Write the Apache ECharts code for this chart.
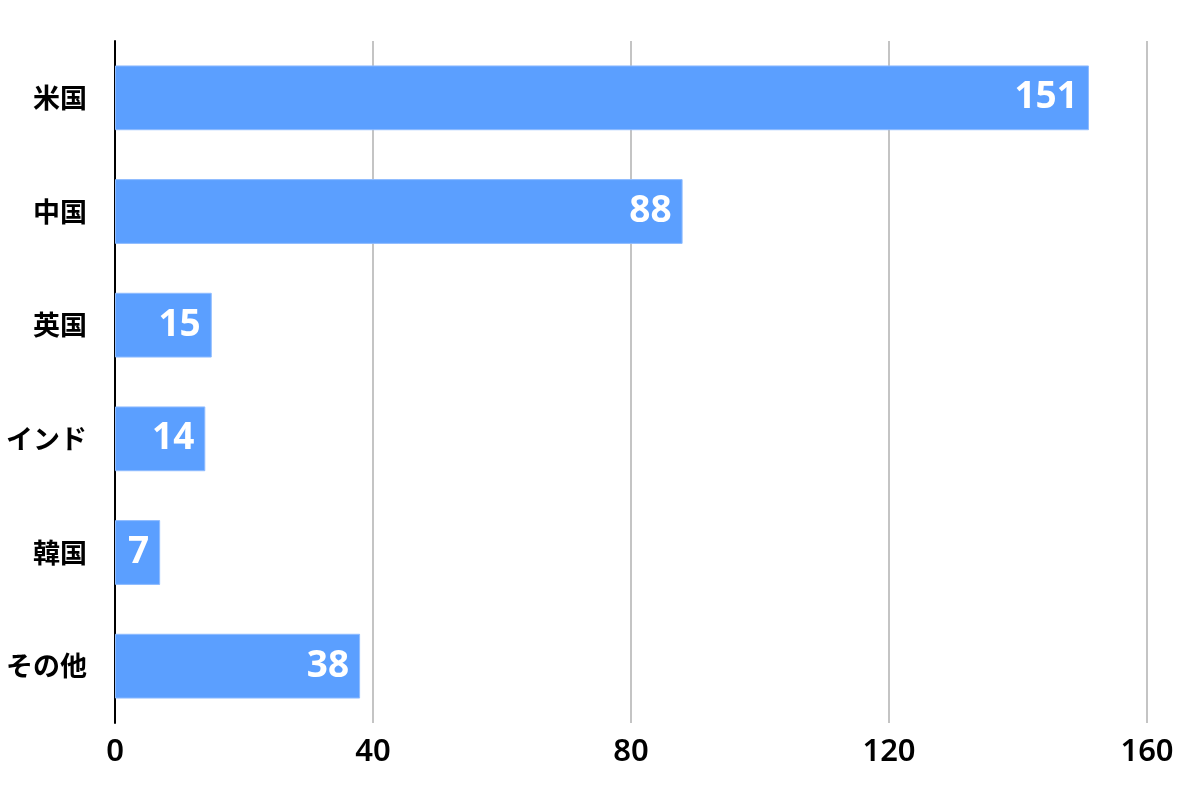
<!DOCTYPE html>
<html><head><meta charset="utf-8">
<script src="https://cdn.jsdelivr.net/npm/echarts@6/dist/echarts.min.js"></script>
<style>html,body{margin:0;padding:0;background:#fff}#c{width:1200px;height:798px}</style>
</head><body><div id="c"></div>
<script>
const categories = ['米国','中国','英国','インド','韓国','その他'];
const values = [151, 88, 15, 14, 7, 38];
const xTicks = [0, 40, 80, 120, 160];

const chart = echarts.init(document.getElementById('c'), null, {renderer:'canvas'});
chart.setOption({
  animation:false,
  grid:{left:115, right:53, top:41, bottom:75, containLabel:false},
  xAxis:{
    type:'value', min:xTicks[0], max:xTicks[xTicks.length-1], interval:40,
    axisLine:{show:false}, axisTick:{show:false},
    splitLine:{show:true, lineStyle:{color:'#c4c4c4', width:2}},
    axisLabel:{color:'#000', fontSize:31, fontWeight:600, fontFamily:'"Noto Sans", sans-serif', margin:14}
  },
  yAxis:{
    type:'category', data:categories, inverse:true,
    axisLine:{show:true, lineStyle:{color:'#000', width:2}},
    axisTick:{show:false},
    axisLabel:{color:'#000', fontSize:27, fontWeight:'bold', fontFamily:'"Noto Sans CJK JP", sans-serif', margin:28}
  },
  series:[{
    type:'bar', data:values, barWidth:'57%',
    itemStyle:{color:'#5B9FFF', borderColor:'#8fbcff', borderWidth:1},
    label:{show:true, position:'insideRight', distance:11, color:'#fff', fontSize:37, fontWeight:'bold', fontFamily:'"Noto Sans", sans-serif'}
  }]
});
</script></body></html>
